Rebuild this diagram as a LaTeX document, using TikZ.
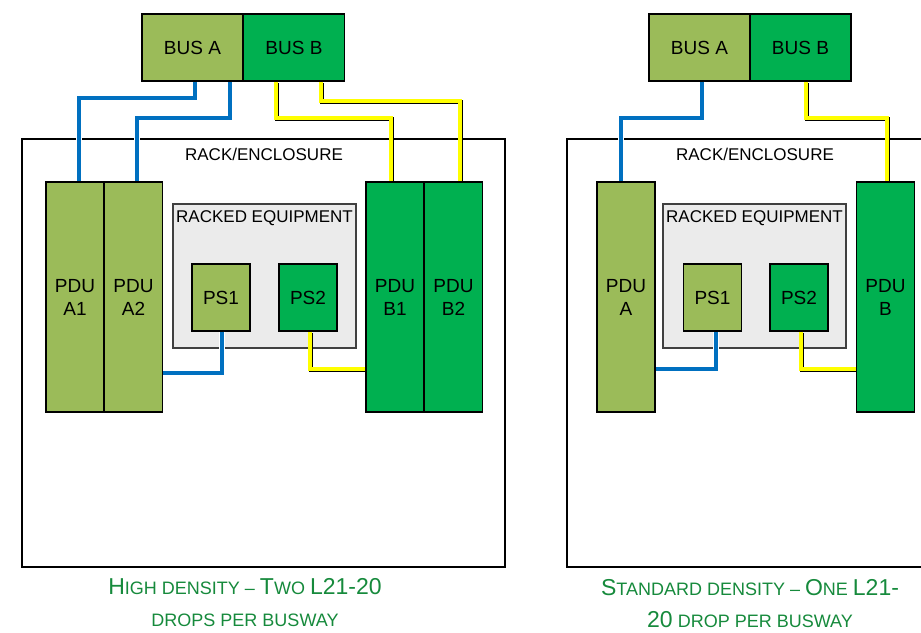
\documentclass[tikz,border=0pt]{standalone}
\usepackage{fontspec}
\setmainfont{Liberation Sans}
\definecolor{lgreen}{HTML}{9BBB59}
\definecolor{dgreen}{HTML}{00B050}
\definecolor{cblue}{HTML}{0070C0}
\definecolor{cyell}{HTML}{FFFF00}
\definecolor{capgreen}{RGB}{22,138,60}
\definecolor{eqgray}{HTML}{EBEBEB}
\newcommand\bigc{\fontsize{23}{32}\selectfont}
\newcommand\smc{\fontsize{18}{32}\selectfont}
\begin{document}
\begin{tikzpicture}[x=1pt,y=-1pt,
  bx/.style={draw=black,line width=1.5pt,inner sep=0pt,font=\fontsize{19}{23}\selectfont,align=center},
  bus/.style={bx,minimum width=101pt,minimum height=67pt},
  pdu/.style={bx,minimum width=58pt,minimum height=230pt},
  ps/.style={bx,minimum width=58pt,minimum height=67pt},
  rack/.style={draw=black,line width=1.5pt,fill=white},
  equip/.style={draw=black!75,line width=1.5pt,fill=eqgray},
  lbl/.style={font=\fontsize{17}{20}\selectfont,inner sep=0pt},
  bwire/.style={line width=3.5pt,cblue,line join=miter,preaction={draw=white,line width=5.5pt}},
  ywire/.style={line width=3.5pt,cyell,line join=miter,preaction={draw=black,line width=3.5pt,transform canvas={shift={(1pt,-1.2pt)}}}},
  captxt/.style={text=capgreen,align=center,font=\bigc,inner sep=0pt}]
\clip (0,0) rectangle (921,632);
\fill[white] (0,0) rectangle (921,632);
% ---------------- left panel ----------------
\draw[rack] (22,139) rectangle (505,567);
\node[lbl] (rackL) at (264,154) {RACK/ENCLOSURE};
\draw[equip] (173,204) rectangle (356,348);
\node[lbl] (eqL) at (264.5,218) {RACKED EQUIPMENT};
\node[bus,fill=lgreen] (busAL) at (192.5,47.5) {BUS A};
\node[bus,fill=dgreen] (busBL) at (294,47.5) {BUS B};
\node[pdu,fill=lgreen] (pduA1) at (75,297) {PDU\\A1};
\node[pdu,fill=lgreen] (pduA2) at (133.5,297) {PDU\\A2};
\node[pdu,fill=dgreen] (pduB1) at (395,297) {PDU\\B1};
\node[pdu,fill=dgreen] (pduB2) at (453.5,297) {PDU\\B2};
\node[ps,fill=lgreen] (ps1L) at (221,297.5) {PS1};
\node[ps,fill=dgreen] (ps2L) at (308,297.5) {PS2};
\draw[bwire] ([xshift=2.5pt]busAL.south) -- ++(0,16) -| ([xshift=4pt]pduA1.north);
\draw[bwire] ([xshift=37.5pt]busAL.south) -- ++(0,36) -| ([xshift=3.5pt]pduA2.north);
\draw[ywire] ([xshift=-18pt]busBL.south) -- ++(0,36) -| ([xshift=-4pt]pduB1.north);
\draw[ywire] ([xshift=27pt]busBL.south) -- ++(0,19) -| ([xshift=6.5pt]pduB2.north);
\draw[bwire] ([xshift=1pt]ps1L.south) |- ([yshift=-76pt]pduA2.east);
\draw[ywire] ([xshift=2pt]ps2L.south) |- ([yshift=-72pt]pduB1.west);
\node[captxt] (capL) at (245,603) {{\bigc H}{\smc IGH DENSITY -- }{\bigc T}{\smc WO }{\bigc L21-20}\\{\smc DROPS PER BUSWAY}};
% ---------------- right panel ----------------
\draw[rack] (567,139) rectangle (940,567);
\node[lbl] (rackR) at (755,154) {RACK/ENCLOSURE};
\draw[equip] (663,204) rectangle (846,348);
\node[lbl] (eqR) at (754.5,218) {RACKED EQUIPMENT};
\node[bus,fill=lgreen] (busAR) at (699.5,47.5) {BUS A};
\node[bus,fill=dgreen] (busBR) at (800.5,47.5) {BUS B};
\node[pdu,fill=lgreen] (pduA) at (626,297) {PDU\\A};
\node[pdu,fill=dgreen] (pduB) at (885.5,297) {PDU\\B};
\node[ps,fill=lgreen] (ps1R) at (712.5,297.5) {PS1};
\node[ps,fill=dgreen] (ps2R) at (799,297.5) {PS2};
\draw[bwire] ([xshift=2.5pt]busAR.south) -- ++(0,36) -| ([xshift=-5pt]pduA.north);
\draw[ywire] ([xshift=5.5pt]busBR.south) -- ++(0,36) -| ([xshift=1.5pt]pduB.north);
\draw[bwire] ([xshift=3.5pt]ps1R.south) |- ([yshift=-72pt]pduA.east);
\draw[ywire] ([xshift=2pt]ps2R.south) |- ([yshift=-72pt]pduB.west);
\node[captxt] (capR) at (750,604) {{\bigc S}{\smc TANDARD DENSITY -- }{\bigc O}{\smc NE }{\bigc L21-}\\{\bigc 20}{\smc{} DROP PER BUSWAY}};
\end{tikzpicture}
\end{document}
